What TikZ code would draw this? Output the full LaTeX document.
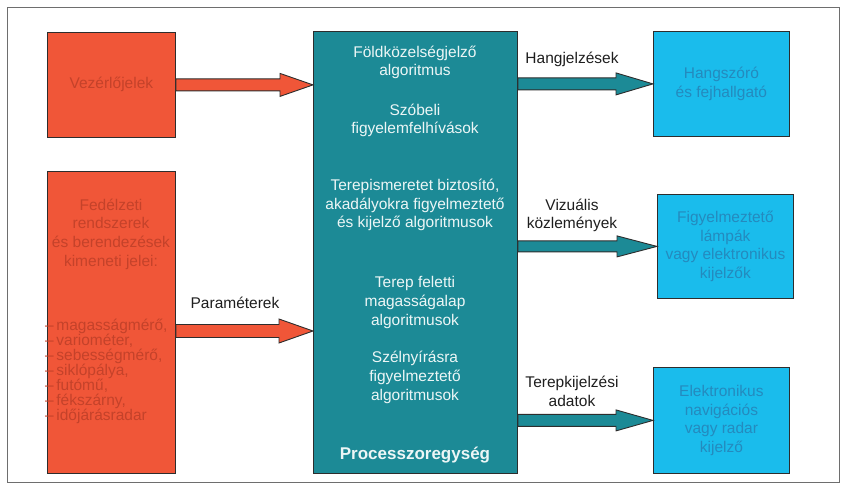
\documentclass[tikz,border=0pt]{standalone}
\usepackage{fontspec}
\setmainfont{Liberation Sans}
\usetikzlibrary{calc}
\definecolor{redfill}{RGB}{240,86,56}
\definecolor{redtext}{RGB}{196,66,42}
\definecolor{tealfill}{RGB}{28,138,150}
\definecolor{bluefill}{RGB}{26,188,236}
\definecolor{bluetext}{RGB}{36,138,190}
\definecolor{boxline}{RGB}{45,45,45}
\definecolor{framecol}{RGB}{110,110,110}
\definecolor{proctext}{RGB}{236,246,246}
\definecolor{labeltext}{RGB}{30,30,30}
\newcommand{\fsN}{\fontsize{15.5}{18.7}\selectfont}
\newcommand{\fsL}{\fontsize{15.5}{15}\selectfont}
\newcommand{\fsB}{\fontsize{17}{20}\selectfont\bfseries}
\newcommand{\barrow}[6]{%
  \draw[#1] ($(#2)+(0,-#4)$) -- ($(#3)+(-#6,-#4)$) -- ($(#3)+(-#6,-#5)$) -- (#3)
    -- ($(#3)+(-#6,#5)$) -- ($(#3)+(-#6,#4)$) -- ($(#2)+(0,#4)$) -- cycle;}
\begin{document}
\begin{tikzpicture}[x=1pt,y=-1pt,
  box/.style={draw=boxline, line width=0.8pt, inner sep=0pt, anchor=north west},
  redbox/.style={box, fill=redfill, text=redtext, font=\fsN, align=center},
  bluebox/.style={box, fill=bluefill, text=bluetext, font=\fsN, align=center},
  procbox/.style={box, fill=tealfill},
  proctxt/.style={text=proctext, font=\fsN, align=center, inner sep=0pt},
  redtxt/.style={text=redtext, font=\fsN, align=center, inner sep=0pt},
  lbl/.style={text=labeltext, font=\fsN, align=center, inner sep=0pt},
  redarrow/.style={fill=redfill, draw=boxline, line width=0.9pt, line join=miter},
  tealarrow/.style={fill=tealfill, draw=boxline, line width=0.9pt, line join=miter}]
\useasboundingbox (0,0) rectangle (846,497);
\draw[framecol, line width=0.8pt] (7,7) rectangle (839,482);

% left boxes
\node[redbox, minimum width=128pt, minimum height=105pt] (vez) at (47,32) {Vezérlőjelek};
\node[redbox, minimum width=128pt, minimum height=302pt] (fed) at (47,171) {};
\node[redtxt] (fedt) at (111,234) {Fedélzeti\\rendszerek\\és berendezések\\kimeneti jelei:};
\node[redtxt, font=\fsL, align=left, anchor=north west] (fedl) at (45,319)
  {–\,magasságmérő,\\–\,variométer,\\–\,sebességmérő,\\–\,siklópálya,\\–\,futómű,\\–\,fékszárny,\\–\,időjárásradar};

% processor
\node[procbox, minimum width=204pt, minimum height=442pt] (proc) at (313,31) {};
\node[proctxt] (p1) at (415,62.5) {Földközelségjelző\\algoritmus};
\node[proctxt] (p2) at (415,120.5) {Szóbeli\\figyelemfelhívások};
\node[proctxt] (p3) at (415,205) {Terepismeretet biztosító,\\akadályokra figyelmeztető\\és kijelző algoritmusok};
\node[proctxt] (p4) at (415,302.5) {Terep feletti\\magasságalap\\algoritmusok};
\node[proctxt] (p5) at (415,377.5) {Szélnyírásra\\figyelmeztető\\algoritmusok};
\node[proctxt, font=\fsB] (p6) at (415,455) {Processzoregység};

% right boxes
\node[bluebox, minimum width=136pt, minimum height=105pt] (b1) at (653,31) {Hangszóró\\és fejhallgató};
\node[bluebox, minimum width=136pt, minimum height=104pt] (b2) at (657,194) {Figyelmeztető\\lámpák\\vagy elektronikus\\kijelzők};
\node[bluebox, minimum width=136pt, minimum height=106pt] (b3) at (653,367) {Elektronikus\\navigációs\\vagy radar\\kijelző};

% labels
\node[lbl] (lpar) at (235,303) {Paraméterek};
\node[lbl] (lhang) at (572,59) {Hangjelzések};
\node[lbl] (lviz) at (572,215.5) {Vizuális\\közlemények};
\node[lbl] (lter) at (572,391.5) {Terepkijelzési\\adatok};

% arrow end points
\coordinate (a1) at (proc.west |- vez.east);
\coordinate (a2s) at (fed.east |- 0,331);
\coordinate (a2) at (proc.west |- a2s);
\coordinate (c1) at (proc.east |- b1.west);
\coordinate (c2) at (proc.east |- b2.west);
\coordinate (c3) at (proc.east |- b3.west);

\barrow{redarrow}{vez.east}{a1}{6}{11.5}{33}
\barrow{redarrow}{a2s}{a2}{6.5}{12}{34}
\barrow{tealarrow}{c1}{b1.west}{6}{11}{37}
\barrow{tealarrow}{c2}{b2.west}{5.5}{10.5}{40}
\barrow{tealarrow}{c3}{b3.west}{6}{10.5}{37}
\end{tikzpicture}
\end{document}
